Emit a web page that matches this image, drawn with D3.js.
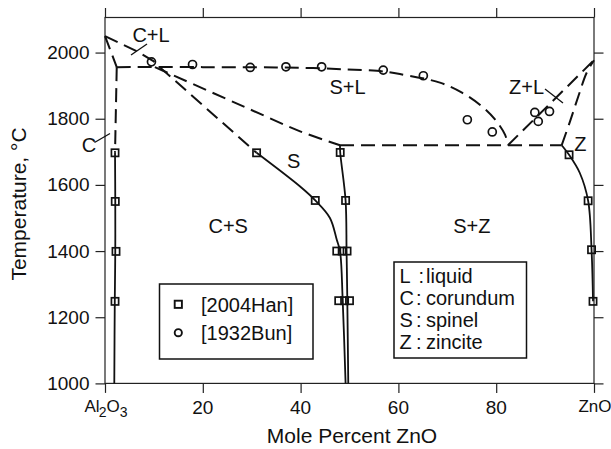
<!DOCTYPE html>
<html>
<head>
<meta charset="utf-8">
<script src="https://cdn.jsdelivr.net/npm/d3@7"></script>
<style>
  body { margin: 0; background: #fff; }
  svg { font-family: "Liberation Sans", Arial, sans-serif; }
  .tick line { stroke: #222; stroke-width: 1.2; }
</style>
</head>
<body>
<div id="chart"></div>
<script>
// axis ticks
const xTicks = [0, 20, 40, 60, 80, 100];
const yTicks = [1000, 1200, 1400, 1600, 1800, 2000];

// experimental points [mol% ZnO, T]
const han2004 = [
    [2.05, 1697], [2.1, 1550], [2.25, 1399], [2.05, 1248],
    [31.0, 1697], [43.0, 1553],
    [48.1, 1698], [49.2, 1553],
    [47.4, 1400], [48.5, 1400], [49.5, 1400],
    [47.8, 1250], [49.0, 1250], [50.0, 1250],
    [94.9, 1691], [98.8, 1552], [99.5, 1404], [99.8, 1248]
];
const bun1932 = [
    [9.5, 1972], [17.9, 1964], [29.7, 1955], [37.0, 1957], [44.3, 1957],
    [56.9, 1947], [65.1, 1930], [74.1, 1797], [79.2, 1760],
    [87.9, 1819], [90.9, 1822], [88.6, 1792]
];

// phase boundaries, solid
const corundumSolvus = [[1.9, 1000], [2.0, 1250], [2.1, 1400], [2.1, 1550], [2.05, 1697]];
const spinelLeft = [[31.0, 1697], [39.9, 1595], [43.0, 1553], [46.0, 1500], [47.4, 1434],
    [48.06, 1400], [48.6, 1254], [49.2, 1000]];
const spinelRight = [[48.06, 1720], [48.1, 1698], [49.2, 1553], [49.4, 1400], [49.55, 1254], [49.75, 1000]];
const zinciteSolvus = [[93.4, 1720], [94.9, 1691], [97.1, 1636], [98.8, 1552], [99.5, 1404], [99.8, 1248]];

// phase boundaries, dashed
const corundumLiquidus = [[0, 2050], [6.5, 2004], [9.9, 1974], [11.3, 1956]];
const corundumSolidus = [[0, 2050], [2.4, 1956]];
const corundumSolvusHigh = [[2.4, 1956], [2.05, 1697]];
const spinelLiquidus = [[2.4, 1956], [20, 1956], [35, 1955], [42.5, 1953], [49.5, 1949],
    [55.6, 1945], [60.3, 1935], [68.5, 1909], [73, 1879], [77.1, 1837], [79.8, 1797],
    [81.8, 1752], [82.4, 1720]];
const spinelSolidusLow = [[11.2, 1956], [31.0, 1697]];
const spinelSolidusHigh = [[10.2, 1956], [29.7, 1828], [39.9, 1762], [48.06, 1720]];
const eutecticZn = [[48.06, 1720], [93.4, 1720]];
const zinciteLiquidus = [[82.4, 1720], [100, 1977]];
const zinciteSolidus = [[93.4, 1720], [95.1, 1792], [96.8, 1868], [98.5, 1939], [100, 1977]];

// region labels
const regionLabels = [
    ["C+L", 151, 2100 - 90], ["S+L", 49.6, 1895], ["Z+L", 86.2, 1895],
    ["C", -3.3, 1720], ["S", 38.6, 1672], ["Z", 97.2, 1725],
    ["C+S", 25.2, 1475], ["S+Z", 75.0, 1475]
];
const legendKeys = ["L", "C", "S", "Z"];
const legendNames = ["liquid", "corundum", "spinel", "zincite"];

const W = 611, H = 449;
const x = d3.scaleLinear().domain([0, 100]).range([105, 594]);
const y = d3.scaleLinear().domain([1000, 2106]).range([383.4, 17.5]);

const svg = d3.select("#chart").append("svg")
    .attr("width", W).attr("height", H);

const line = d3.line().x(d => x(d[0])).y(d => y(d[1]));
const curve = d3.line().x(d => x(d[0])).y(d => y(d[1])).curve(d3.curveCatmullRom);

// frame + ticks
svg.append("rect")
    .attr("x", x(0)).attr("y", y(2106))
    .attr("width", x(100) - x(0)).attr("height", y(1000) - y(2106))
    .attr("fill", "none").attr("stroke", "#222").attr("stroke-width", 1.2);

const noDomain = g => g.select(".domain").remove();
svg.append("g").attr("transform", `translate(0,${y(1000)})`)
    .call(d3.axisBottom(x).tickValues(xTicks).tickSize(9.5).tickFormat(""))
    .call(noDomain);
svg.append("g").attr("transform", `translate(0,${y(2106)})`)
    .call(d3.axisTop(x).tickValues(xTicks).tickSize(9.5).tickFormat(""))
    .call(noDomain);
svg.append("g").attr("transform", `translate(${x(100)},0)`)
    .call(d3.axisRight(y).tickValues(yTicks).tickSize(9.5).tickFormat(""))
    .call(noDomain);
svg.append("g").attr("transform", `translate(${x(0)},0)`)
    .call(d3.axisLeft(y).tickValues(yTicks).tickSize(9.5).tickPadding(6).tickFormat(d3.format("d")))
    .call(noDomain)
    .call(g => g.selectAll("text").attr("font-size", 19).attr("fill", "#111")
        .attr("font-family", "Liberation Sans, Arial, sans-serif"));

// bottom tick labels
svg.append("g").selectAll("text")
    .data(xTicks.slice(1, -1))
    .join("text")
    .attr("x", d => x(d)).attr("y", 414)
    .attr("text-anchor", "middle").attr("font-size", 19).attr("fill", "#111")
    .text(d => d);

const al = svg.append("text").attr("x", x(0) + 1).attr("y", 412)
    .attr("text-anchor", "middle").attr("font-size", 17).attr("fill", "#111");
al.append("tspan").text("Al");
al.append("tspan").attr("font-size", 14).attr("dy", 5).attr("dx", -1).text("2");
al.append("tspan").attr("dy", -5).text("O");
al.append("tspan").attr("font-size", 14).attr("dy", 5).text("3");

svg.append("text").attr("x", x(100) + 1).attr("y", 412)
    .attr("text-anchor", "middle").attr("font-size", 17).attr("fill", "#111")
    .text("ZnO");

// axis titles
svg.append("text").attr("x", 352).attr("y", 443)
    .attr("text-anchor", "middle").attr("font-size", 21).attr("fill", "#111")
    .text("Mole Percent ZnO");
svg.append("text")
    .attr("transform", "translate(26,204) rotate(-90)")
    .attr("text-anchor", "middle").attr("font-size", 21).attr("fill", "#111")
    .text("Temperature, °C");

// boundaries
const dashed = [corundumLiquidus, corundumSolidus, corundumSolvusHigh, spinelSolidusLow,
    eutecticZn, zinciteLiquidus];
const dashedCurves = [spinelLiquidus, spinelSolidusHigh, zinciteSolidus];

svg.append("g").selectAll("path")
    .data(dashed)
    .join("path")
    .attr("d", line)
    .attr("fill", "none").attr("stroke", "#111").attr("stroke-width", 2)
    .attr("stroke-dasharray", "14,7");
svg.append("g").selectAll("path")
    .data(dashedCurves)
    .join("path")
    .attr("d", curve)
    .attr("fill", "none").attr("stroke", "#111").attr("stroke-width", 2)
    .attr("stroke-dasharray", "14,7");
svg.append("g").selectAll("path")
    .data([corundumSolvus, spinelLeft, spinelRight, zinciteSolvus])
    .join("path")
    .attr("d", curve)
    .attr("fill", "none").attr("stroke", "#111").attr("stroke-width", 1.8);

// data markers
svg.append("g").selectAll("rect")
    .data(han2004)
    .join("rect")
    .attr("x", d => x(d[0]) - 3.6).attr("y", d => y(d[1]) - 3.6)
    .attr("width", 7.2).attr("height", 7.2)
    .attr("fill", "none").attr("stroke", "#111").attr("stroke-width", 1.7);
svg.append("g").selectAll("circle")
    .data(bun1932)
    .join("circle")
    .attr("cx", d => x(d[0])).attr("cy", d => y(d[1])).attr("r", 4)
    .attr("fill", "none").attr("stroke", "#111").attr("stroke-width", 1.7);

// region labels
svg.append("g").selectAll("text")
    .data(regionLabels)
    .join("text")
    .attr("x", (d, i) => i === 0 ? d[1] : x(d[1]))
    .attr("y", (d, i) => i === 0 ? 35 : y(d[2]))
    .attr("text-anchor", "middle").attr("dominant-baseline", "central")
    .attr("font-size", 20).attr("fill", "#111")
    .text(d => d[0]);

// leader lines
const leaders = [[[131, 55], [147, 44]], [[94.5, 142.5], [110, 133.5]], [[545, 89], [563, 103]]];
svg.append("g").selectAll("path")
    .data(leaders)
    .join("path")
    .attr("d", d => d3.line()(d))
    .attr("stroke", "#111").attr("stroke-width", 1.3);

// legend: sources
const lg1 = svg.append("g");
lg1.append("rect").attr("x", 159.5).attr("y", 284).attr("width", 153.5).attr("height", 75)
    .attr("fill", "#fff").attr("stroke", "#111").attr("stroke-width", 1.5);
lg1.append("rect").attr("x", 178.3 - 3.6).attr("y", 304.3 - 3.6).attr("width", 7.2).attr("height", 7.2)
    .attr("fill", "none").attr("stroke", "#111").attr("stroke-width", 1.9);
lg1.append("circle").attr("cx", 178.3).attr("cy", 332.7).attr("r", 3.6)
    .attr("fill", "none").attr("stroke", "#111").attr("stroke-width", 1.9);
lg1.selectAll("text.src")
    .data(["[2004Han]", "[1932Bun]"])
    .join("text")
    .attr("class", "src")
    .attr("x", 201).attr("y", (d, i) => 305 + i * 28.4)
    .attr("dominant-baseline", "central").attr("font-size", 20).attr("fill", "#111")
    .text(d => d);

// legend: phases
const lg2 = svg.append("g");
lg2.append("rect").attr("x", 394).attr("y", 262).attr("width", 132.5).attr("height", 96)
    .attr("fill", "#fff").attr("stroke", "#111").attr("stroke-width", 1.5);
const rows = lg2.selectAll("g.row")
    .data(legendKeys)
    .join("g")
    .attr("class", "row")
    .attr("transform", (d, i) => `translate(0,${282.5 + i * 22.2})`)
    .attr("font-size", 20).attr("fill", "#111");
rows.append("text").attr("x", 399.5).text(d => d);
rows.append("text").attr("x", (d, i) => i === 0 ? 418.5 : 416).text(":");
rows.append("text").attr("x", 426).text((d, i) => legendNames[i]);
</script>
</body>
</html>
